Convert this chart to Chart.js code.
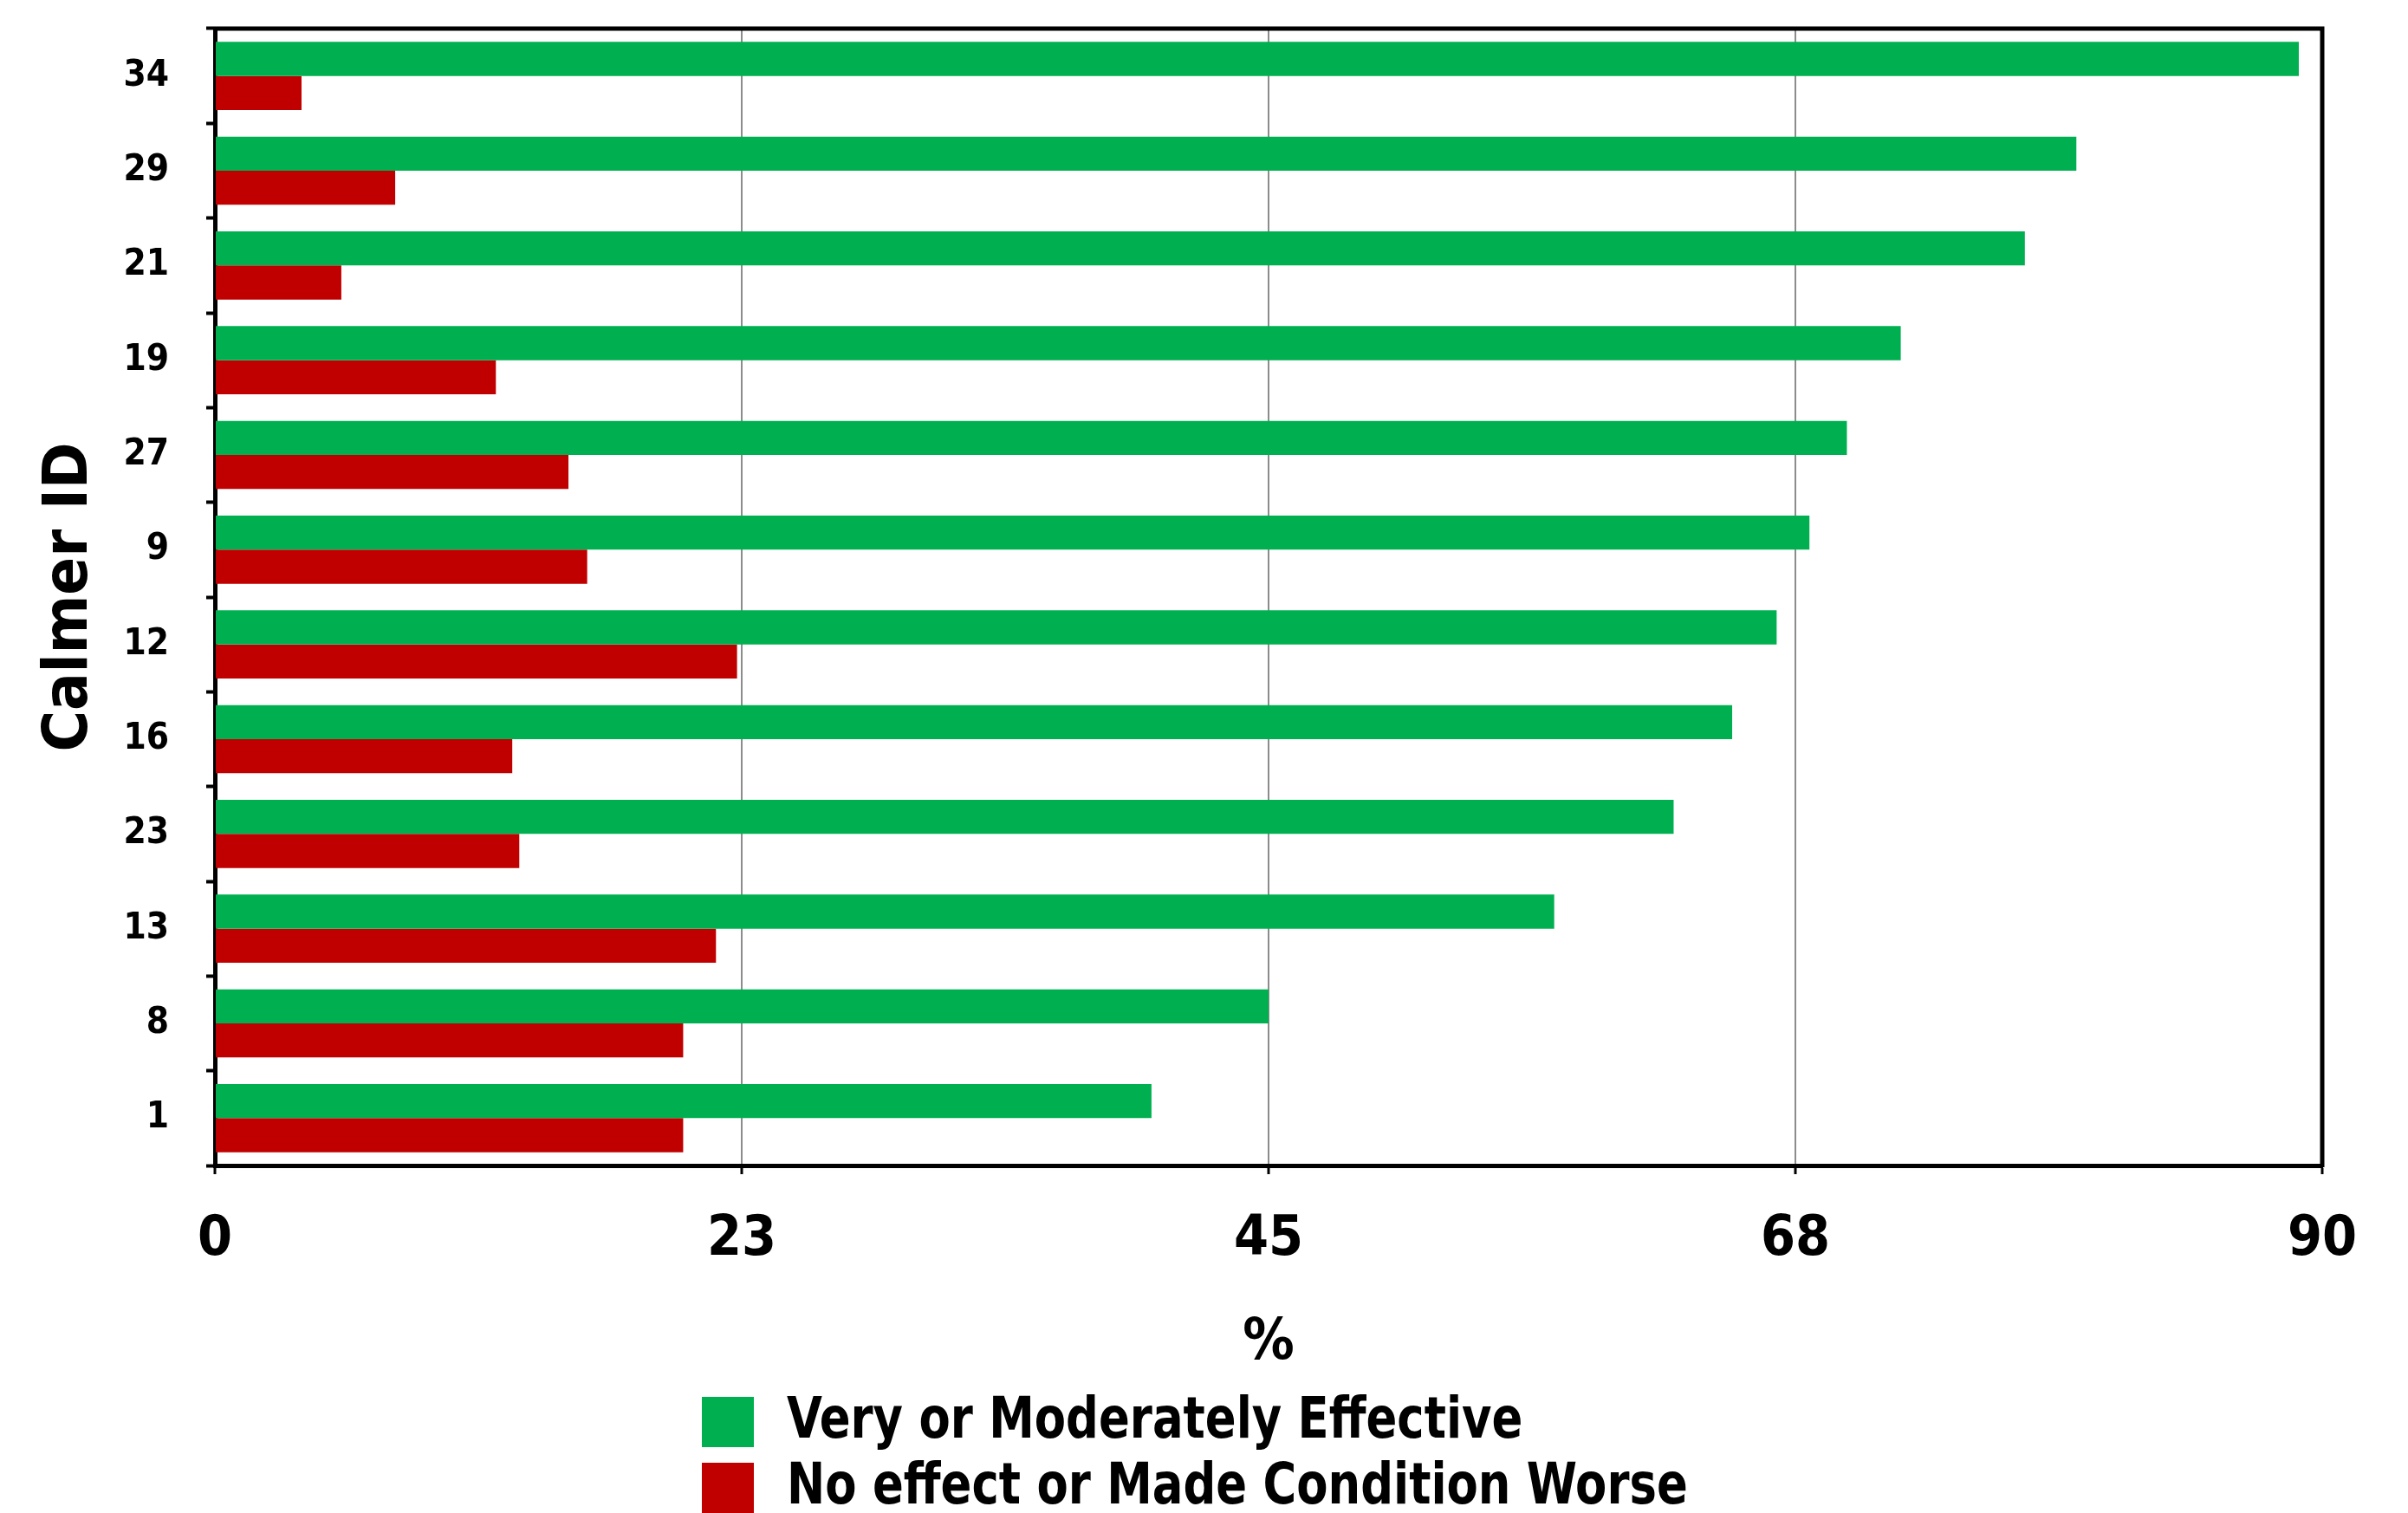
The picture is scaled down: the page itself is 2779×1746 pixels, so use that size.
<!DOCTYPE html>
<html>
<head>
<meta charset="utf-8">
<script src="https://cdn.jsdelivr.net/npm/chart.js@4.4.1/dist/chart.umd.min.js"></script>
<style>
  html, body { margin: 0; padding: 0; background: #fff; }
  #wrap { width: 2779px; height: 1746px; position: relative; }
</style>
</head>
<body>
<div id="wrap"><canvas id="chart"></canvas></div>
<script>
// Calmer IDs, top to bottom
const calmerIds = ['34', '29', '21', '19', '27', '9', '12', '16', '23', '13', '8', '1'];
const effective = [89.0, 79.5, 77.3, 72.0, 69.7, 68.1, 66.7, 64.8, 62.3, 57.2, 45.0, 40.0];
const noEffect = [3.7, 7.7, 5.4, 12.0, 15.1, 15.9, 22.3, 12.7, 13.0, 21.4, 20.0, 20.0];
const seriesNames = ['Very or Moderately Effective', 'No effect or Made Condition Worse'];
const xMax = 90;
const xStep = 22.5;

const FONT = "'Liberation Sans Narrow', 'DejaVu Sans Condensed', 'Arial Narrow', sans-serif";
Chart.defaults.font.family = FONT;
Chart.defaults.color = '#000';

// top + right frame lines
const frame = {
  id: 'frame',
  afterDraw(chart) {
    const { ctx, chartArea: a } = chart;
    ctx.save();
    ctx.strokeStyle = '#000';
    ctx.lineWidth = 5;
    ctx.beginPath();
    ctx.moveTo(a.left - 2, a.top);
    ctx.lineTo(a.right, a.top);
    ctx.lineTo(a.right, a.bottom + 2);
    ctx.stroke();
    ctx.restore();
  }
};

// stacked legend under the axis title
const stackLegend = {
  id: 'stackLegend',
  afterDraw(chart) {
    const { ctx } = chart;
    ctx.save();
    ctx.font = 'bold 66px ' + FONT;
    ctx.textBaseline = 'middle';
    const x0 = 810, box = 60, rowH = 76, y0 = 1612, tx = 908;
    chart.data.datasets.forEach((ds, i) => {
      const y = y0 + i * rowH;
      ctx.fillStyle = ds.backgroundColor;
      ctx.fillRect(x0, y, box, box - 2);
      ctx.fillStyle = '#000';
      // squeeze a little, the original face is narrower
      ctx.save();
      ctx.translate(tx, y + box / 2);
      ctx.scale(0.89, 1);
      ctx.fillText(ds.label, 0, 0);
      ctx.restore();
    });
    ctx.restore();
  }
};

new Chart(document.getElementById('chart'), {
  type: 'bar',
  data: {
    labels: calmerIds,
    datasets: [
      { label: seriesNames[0], data: effective, backgroundColor: '#00B050', categoryPercentage: 0.72, barPercentage: 1.0 },
      { label: seriesNames[1], data: noEffect, backgroundColor: '#C00000', categoryPercentage: 0.72, barPercentage: 1.0 }
    ]
  },
  options: {
    indexAxis: 'y',
    responsive: true,
    maintainAspectRatio: false,
    animation: false,
    layout: { padding: { top: 33, right: 99, left: 0, bottom: 0 } },
    plugins: { legend: { display: false }, tooltip: { enabled: false } },
    scales: {
      x: {
        min: 0, max: xMax,
        afterFit: (s) => { s.height = 401; s.paddingLeft = 0; s.paddingRight = 0; },
        ticks: {
          stepSize: xStep,
          font: { size: 64, weight: 'bold' },
          padding: 38,
          callback: (v) => Math.round(v)
        },
        grid: { color: '#8c8c8c', lineWidth: 2, tickColor: '#000', tickWidth: 3, tickLength: 10 },
        border: { display: true, color: '#000', width: 5 },
        title: { display: true, text: '%', font: { size: 66, weight: 'bold' }, padding: { top: 0, bottom: 156 } }
      },
      y: {
        afterFit: (s) => { s.width = 248; s.paddingTop = 0; s.paddingBottom = 0; },
        ticks: { font: { size: 42, weight: 'bold' }, padding: 43 },
        grid: { offset: true, drawOnChartArea: false, tickColor: '#000', tickWidth: 4, tickLength: 10 },
        border: { display: true, color: '#000', width: 5 },
        title: { display: true, text: 'Calmer ID', font: { size: 72, weight: 'bold' }, padding: { top: 38, bottom: 0 } }
      }
    }
  },
  plugins: [frame, stackLegend]
});
</script>
</body>
</html>
